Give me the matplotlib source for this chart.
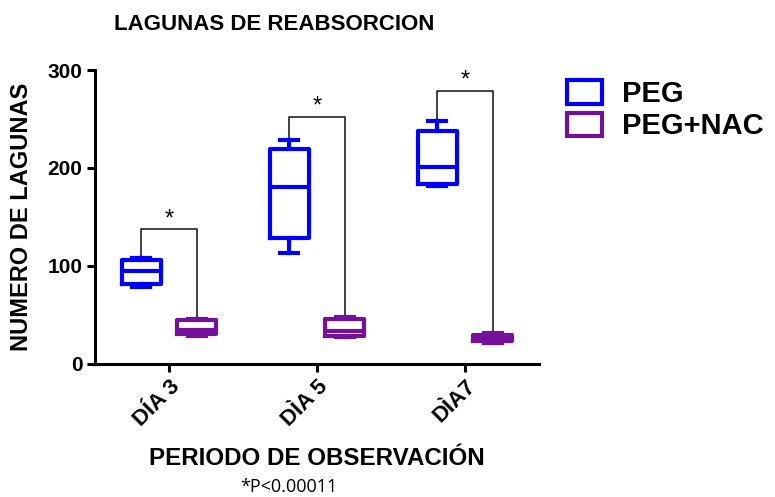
import matplotlib
matplotlib.use('Agg')
import matplotlib.pyplot as plt
from matplotlib.patches import Patch
import numpy as np

plt.rcParams['font.family'] = ['Liberation Sans', 'DejaVu Sans']

# ========== DATA ==========
dias = ['DÍA 3', 'DÌA 5', 'DÌA7']
grupos = ['PEG', 'PEG+NAC']
# five-number summaries per day: (min, q1, median, q3, max)
peg_stats = [(78, 81, 95, 106, 108),
             (113, 128, 180, 219, 228),
             (181, 184, 201, 238, 248)]
nac_stats = [(28, 30, 34, 44, 46),
             (27, 28, 33, 46, 48),
             (21, 23, 26, 29, 31)]
sig_y = [137, 252, 279]
footnote = '*P<0.00011'

colors = {'PEG': '#0000ff', 'PEG+NAC': '#74109a'}

fig = plt.figure(figsize=(7.75, 4.97), dpi=100)
ax = fig.add_axes([0.1226, 0.2686, 0.5729, 0.5905])

x = np.arange(len(dias))
off = 0.187
w = 0.265

def to_bxp(stats):
    return [dict(whislo=s[0], q1=s[1], med=s[2], q3=s[3], whishi=s[4], fliers=[]) for s in stats]

for stats, pos, name in [(peg_stats, x - off, 'PEG'), (nac_stats, x + off, 'PEG+NAC')]:
    c = colors[name]
    lp = dict(color=c, linewidth=3)
    ax.bxp(to_bxp(stats), positions=pos, widths=w, showfliers=False,
           boxprops=lp, whiskerprops=lp, capprops=lp, medianprops=lp,
           capwidths=0.12, manage_ticks=False)

# significance brackets
for i in range(len(dias)):
    x0, x1 = x[i] - off, x[i] + off
    y0, y1 = peg_stats[i][4], nac_stats[i][4]
    ax.plot([x0, x0, x1, x1], [y0, sig_y[i], sig_y[i], y1], color='#333333', lw=1.3, zorder=1)
    ax.text(x[i], sig_y[i] - 1, '*', ha='center', va='bottom', fontsize=17)

ax.set_xlim(-0.5, 2.5)
ax.set_ylim(0, 300)
ax.set_yticks([0, 100, 200, 300])
ax.set_xticks(x)
ax.set_xticklabels(dias, rotation=45, ha='right', rotation_mode='anchor')
for lbl in ax.get_xticklabels():
    lbl.set_fontweight('bold')
    lbl.set_fontsize(16)
for lbl in ax.get_yticklabels():
    lbl.set_fontweight('bold')
    lbl.set_fontsize(15)
ax.spines['top'].set_visible(False)
ax.spines['right'].set_visible(False)
for s in ['left', 'bottom']:
    ax.spines[s].set_linewidth(2.2)
ax.tick_params(width=2.2, length=6, pad=3)

ax.set_ylabel('NUMERO DE LAGUNAS', fontsize=17, fontweight='bold', va='center')
ax.yaxis.set_label_coords(-0.166, 0.5)
ax.set_xlabel('PERIODO DE OBSERVACIÓN', fontsize=17.4, fontweight='bold', va='top')
ax.xaxis.set_label_coords(0.5, -0.285)

fig.text(274 / 775, 1 - 25 / 497, 'LAGUNAS DE REABSORCION', ha='center', va='center',
         fontsize=16, fontweight='bold')
fig.text(289 / 775, 1 - 487 / 497, footnote, ha='center', va='center',
         fontsize=13, family=['Open Sans', 'DejaVu Sans'])

handles = [Patch(facecolor='white', edgecolor=colors[g], linewidth=3) for g in grupos]
leg = fig.legend(handles, grupos, loc='upper left', bbox_to_anchor=(567 / 775, 1 - 80 / 497),
                 frameon=False, prop=dict(size=21, weight='bold'), handlelength=1.2,
                 handleheight=0.86, handletextpad=0.7, labelspacing=0.15, borderpad=0,
                 borderaxespad=0)

plt.savefig('out.png', dpi=100)
plt.close()
